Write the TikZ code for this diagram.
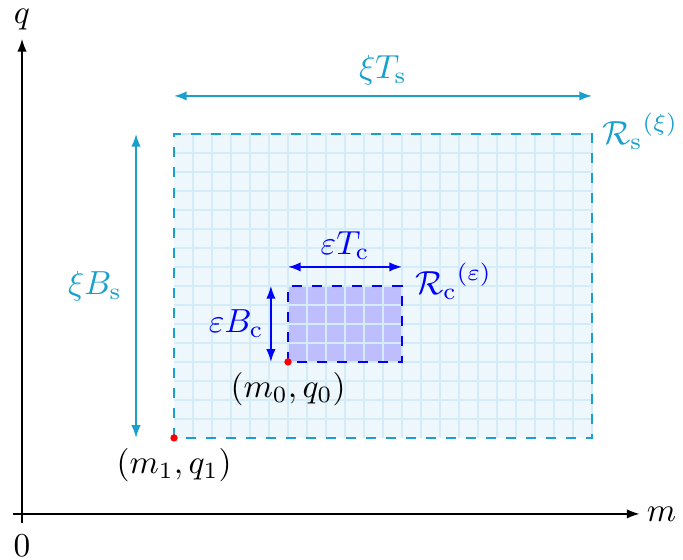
\documentclass[tikz,border=0pt]{standalone}
\usetikzlibrary{arrows.meta}
\definecolor{scol}{RGB}{25,160,205}
\definecolor{gridc}{RGB}{212,235,248}
\definecolor{fillout}{RGB}{237,247,252}
\definecolor{fillin}{RGB}{190,190,255}
\begin{document}
\begin{tikzpicture}[
  axis/.style={-{Latex[length=3.8pt,width=2.8pt]}, black, line width=0.4pt},
  dimarrow/.style={{Latex[length=3.8pt,width=2.8pt]}-{Latex[length=3.8pt,width=2.8pt]}, line width=0.5pt},
  cornerdot/.style={fill=red, circle, inner sep=0pt, minimum size=2.2pt},
  lab/.style={inner sep=2pt},
]
\useasboundingbox (-0.232,-0.484) rectangle (6.958,5.41);

% named points
\coordinate (o1) at (1.6,0.8);
\coordinate (o2) at (6.0,4.0);
\coordinate (i1) at (2.8,1.6);
\coordinate (i2) at (4.0,2.4);

% regions
\fill[fillout] (o1) rectangle (o2);
\fill[fillin] (i1) rectangle (i2);
\draw[gridc, line width=0.45pt, step=0.2] (o1) grid (o2);
\draw[scol, dashed, line width=0.6pt] (o1) rectangle (o2);
\draw[blue, dashed, line width=0.6pt] (i1) rectangle (i2);

% axes
\coordinate (xs) at (-0.1,0);
\coordinate (xe) at (6.5,0);
\coordinate (ys) at (0,-0.1);
\coordinate (ye) at (0,5.0);
\draw[axis] (xs) -- (xe);
\draw[axis] (ys) -- (ye);
\node[anchor=west, inner sep=2pt] (mlab) at (xe) {$m$};
\node[anchor=base, inner sep=0pt] (qlab) at (0,5.16) {$q$};
\node[below] (zero) at (ys) {$0$};

% outer dimension arrows
\coordinate (ta) at (1.6,4.4);
\coordinate (tb) at (6.0,4.4);
\draw[dimarrow, scol] (ta) -- node[above, inner sep=3pt, scol] (xiT) {$\xi T_{\mathrm{s}}$} (tb);
\coordinate (la) at (1.2,0.8);
\coordinate (lb) at (1.2,4.0);
\draw[dimarrow, scol] (la) -- node[left, inner sep=4pt, scol] (xiB) {$\xi B_{\mathrm{s}}$} (lb);

% inner dimension arrows
\coordinate (ca) at (2.8,2.6);
\coordinate (cb) at (4.0,2.6);
\draw[dimarrow, blue] (ca) -- node[above, lab, blue] (epT) {$\varepsilon T_{\mathrm{c}}$} (cb);
\coordinate (da) at (2.62,1.6);
\coordinate (db) at (2.62,2.4);
\draw[dimarrow, blue] (da) -- node[left, inner sep=2pt, blue] (epB) {$\varepsilon B_{\mathrm{c}}$} (db);

% region labels
\node[anchor=west, scol, inner sep=2pt] (Rs) at (6.03,4.03) {${\mathcal{R}_{\mathrm{s}}}^{(\xi)}$};
\node[anchor=west, blue, inner sep=2pt] (Rc) at (4.06,2.45) {${\mathcal{R}_{\mathrm{c}}}^{(\varepsilon)}$};

% corner points
\node[cornerdot] (p1) at (o1) {};
\node[cornerdot] (p0) at (i1) {};
\node[below, inner sep=3pt] (l1) at (o1) {$(m_1,q_1)$};
\node[below, inner sep=3pt] (l0) at (i1) {$(m_0,q_0)$};
\end{tikzpicture}
\end{document}
